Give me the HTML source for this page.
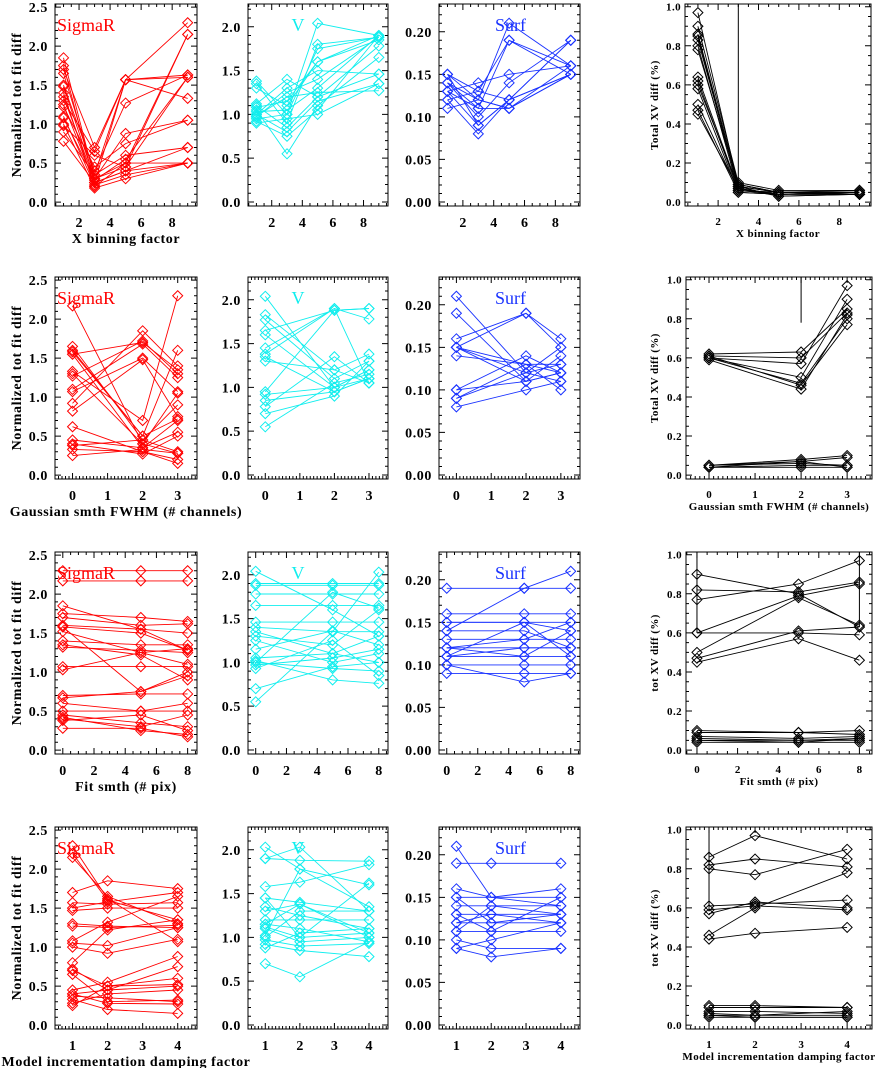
<!DOCTYPE html>
<html><head><meta charset="utf-8">
<style>
html,body{margin:0;padding:0;background:#fff;}
svg{display:block;}
text{font-family:"Liberation Serif",serif;font-weight:bold;fill:#000;}
</style></head>
<body>
<svg id="fig" width="879" height="1068" viewBox="0 0 879 1068" xmlns="http://www.w3.org/2000/svg"></svg>
<script>
// ---- Data (x categories per row) ----
const xRow1 = [1,3,5,9];
const xRow2 = [0,2,3];
const xRow3 = [0,5,8];
const xRow4 = [1,2,4];

const r1SigmaR = [[1.85,0.3,0.45,2.15],[1.75,0.25,1.57,1.6],[1.7,0.7,1.57,1.33],[1.65,0.35,1.57,2.3],[1.5,0.4,1.27,1.63],[1.48,0.3,0.88,1.05],[1.4,0.2,0.5,0.5],[1.35,0.28,0.55,1.6],[1.3,0.65,1.57,1.63],[1.25,0.25,0.4,0.7],[1.22,0.45,0.75,1.05],[1.1,0.22,0.35,0.5],[1.08,0.3,0.5,2.15],[1.0,0.18,0.3,0.5],[0.98,0.6,0.45,1.6],[0.9,0.35,0.6,0.7],[0.78,0.25,0.4,0.5]];
const r1V = [[1.38,1.0,2.04,1.9],[1.35,0.9,1.8,1.88],[1.3,1.1,1.6,1.9],[1.12,1.4,1.2,1.78],[1.05,0.55,1.1,1.65],[1.0,1.3,1.5,1.46],[1.0,0.8,1.15,1.35],[0.98,1.2,1.25,1.27],[0.95,1.0,1.75,1.88],[0.92,0.75,1.05,1.9],[1.08,1.15,1.6,1.85],[0.9,0.95,1.0,1.35],[1.03,1.05,1.3,1.9],[1.1,0.85,1.2,1.46],[0.97,1.25,1.4,1.88]];
const r1Surf = [[0.15,0.13,0.19,0.15],[0.15,0.09,0.12,0.19],[0.14,0.12,0.21,0.16],[0.14,0.1,0.14,0.19],[0.13,0.11,0.11,0.15],[0.13,0.14,0.15,0.16],[0.12,0.08,0.12,0.15],[0.11,0.12,0.11,0.15],[0.13,0.09,0.12,0.19],[0.15,0.12,0.11,0.16],[0.14,0.11,0.19,0.16],[0.12,0.13,0.12,0.15]];
const r1XV = [[0.97,0.08,0.05,0.05],[0.9,0.1,0.06,0.06],[0.86,0.09,0.05,0.05],[0.85,0.07,0.04,0.04],[0.83,0.08,0.05,0.06],[0.8,0.06,0.04,0.05],[0.78,0.09,0.05,0.04],[0.64,0.07,0.04,0.05],[0.62,0.06,0.05,0.04],[0.6,0.08,0.03,0.04],[0.58,0.05,0.04,0.05],[0.5,0.06,0.05,0.05],[0.47,0.05,0.04,0.04],[0.45,0.07,0.03,0.04]];
const r1Vline = [[3,0.08]];

const r2SigmaR = [[2.17,0.4,1.05],[1.65,0.45,0.3],[1.58,0.5,1.6],[1.55,0.35,0.7],[1.33,0.7,2.3],[1.3,0.4,0.28],[1.27,1.72,1.3],[1.1,1.68,1.25],[1.07,1.5,1.07],[0.92,1.85,1.4],[0.82,1.48,0.75],[0.62,0.3,0.2],[0.45,0.35,0.55],[0.4,0.27,0.5],[0.38,0.45,0.9],[0.33,0.3,0.15],[0.25,0.33,0.28],[1.6,0.5,0.72],[1.55,1.7,1.35]];
const r2V = [[2.04,1.0,1.1],[1.83,1.2,1.05],[1.77,1.1,1.3],[1.65,1.88,1.9],[1.6,1.0,1.2],[1.45,1.9,1.78],[1.38,1.9,1.05],[1.35,0.95,1.1],[1.3,1.2,1.38],[0.95,1.88,1.9],[0.92,1.0,1.2],[0.85,0.95,1.1],[0.78,1.35,1.05],[0.7,0.9,1.3],[0.55,1.05,1.15]];
const r2Surf = [[0.21,0.12,0.11],[0.19,0.11,0.12],[0.16,0.19,0.15],[0.15,0.19,0.16],[0.15,0.12,0.13],[0.14,0.13,0.1],[0.15,0.11,0.14],[0.10,0.14,0.12],[0.09,0.12,0.15],[0.09,0.13,0.13],[0.08,0.10,0.11],[0.10,0.11,0.12],[0.15,0.13,0.12]];
const r2XV = [[0.62,0.63,0.85],[0.61,0.6,0.83],[0.6,0.57,0.97],[0.6,0.5,0.9],[0.6,0.47,0.8],[0.61,0.46,0.77],[0.59,0.44,0.82],[0.05,0.08,0.1],[0.05,0.07,0.09],[0.04,0.05,0.05],[0.04,0.04,0.04],[0.05,0.06,0.05],[0.04,0.07,0.04]];
const r2Vline = [[2,0.78]];

const r3SigmaR = [[2.3,2.3,2.3],[2.17,2.17,2.17],[1.85,1.55,1.28],[1.75,1.7,1.65],[1.7,1.6,1.62],[1.6,1.55,1.5],[1.58,1.5,1.28],[1.52,1.25,1.1],[1.4,1.35,1.35],[1.35,1.22,0.9],[1.32,1.28,1.25],[1.07,1.07,1.07],[1.03,1.25,1.3],[0.7,0.72,0.72],[0.67,0.75,0.95],[0.6,0.5,0.6],[0.5,0.5,0.5],[0.45,0.35,0.3],[0.4,0.3,0.45],[0.38,0.45,0.25],[0.28,0.28,0.17],[0.42,0.25,0.2],[1.58,0.75,1.0]];
const r3V = [[2.04,1.6,1.3],[1.9,1.9,1.9],[1.88,1.88,1.88],[1.78,1.78,1.78],[1.65,1.65,1.65],[1.46,1.46,1.46],[1.4,1.35,1.35],[1.35,1.1,1.0],[1.3,1.2,1.6],[1.25,1.0,1.1],[1.15,1.36,1.2],[1.05,1.1,1.3],[1.0,0.93,0.9],[0.97,1.05,1.15],[0.93,1.25,0.85],[0.7,0.95,1.0],[0.55,1.35,2.03],[1.02,0.8,0.76],[1.0,1.8,1.62]];
const r3Surf = [[0.19,0.19,0.19],[0.16,0.16,0.16],[0.15,0.15,0.15],[0.15,0.15,0.14],[0.14,0.19,0.21],[0.14,0.14,0.12],[0.13,0.13,0.13],[0.12,0.12,0.12],[0.12,0.13,0.15],[0.11,0.15,0.11],[0.11,0.11,0.11],[0.11,0.12,0.12],[0.10,0.10,0.10],[0.10,0.08,0.09],[0.09,0.09,0.09],[0.12,0.11,0.14]];
const r3XV = [[0.9,0.8,0.63],[0.82,0.81,0.86],[0.77,0.85,0.97],[0.6,0.79,0.85],[0.5,0.78,0.64],[0.47,0.61,0.63],[0.45,0.57,0.46],[0.6,0.6,0.59],[0.1,0.09,0.1],[0.09,0.09,0.08],[0.07,0.06,0.07],[0.05,0.05,0.05],[0.04,0.04,0.04],[0.06,0.05,0.06],[0.05,0.04,0.06]];
const r3Vline = [[0,0.6],[8,0.63]];

const r4SigmaR = [[2.3,1.62,1.07],[2.2,1.6,1.35],[2.15,1.65,1.3],[1.7,1.85,1.75],[1.57,1.55,1.57],[1.5,1.58,1.7],[1.47,1.5,1.5],[1.3,1.27,1.25],[1.27,1.25,1.28],[1.08,1.32,1.65],[1.05,1.02,1.25],[1.0,0.92,1.1],[0.8,1.22,1.35],[0.72,0.45,0.5],[0.7,0.5,0.52],[0.65,0.3,0.32],[0.45,0.55,0.88],[0.4,0.45,0.75],[0.37,0.35,0.3],[0.33,0.2,0.15],[0.28,0.4,0.45],[0.25,0.5,0.6],[0.4,0.28,0.27]];
const r4V = [[2.03,1.78,1.35],[1.9,1.88,1.87],[1.9,2.03,1.3],[1.58,1.63,1.83],[1.45,1.4,1.3],[1.45,1.0,1.62],[1.35,1.25,1.1],[1.3,1.38,1.0],[1.2,1.2,1.2],[1.15,1.1,0.95],[1.12,1.0,1.05],[1.1,0.95,1.0],[1.0,1.3,1.3],[0.97,0.9,0.93],[0.92,0.85,0.78],[0.88,1.05,1.1],[0.7,0.55,0.95],[1.02,1.78,1.6],[1.15,1.38,1.05]];
const r4Surf = [[0.21,0.15,0.14],[0.19,0.19,0.19],[0.16,0.15,0.16],[0.15,0.15,0.15],[0.15,0.12,0.13],[0.14,0.14,0.14],[0.13,0.13,0.12],[0.13,0.11,0.15],[0.12,0.12,0.12],[0.12,0.13,0.13],[0.11,0.11,0.11],[0.11,0.14,0.13],[0.10,0.09,0.09],[0.09,0.08,0.09],[0.09,0.10,0.12]];
const r4XV = [[0.86,0.97,0.85],[0.82,0.85,0.81],[0.8,0.77,0.9],[0.61,0.62,0.64],[0.59,0.61,0.59],[0.57,0.63,0.6],[0.46,0.6,0.78],[0.44,0.47,0.5],[0.1,0.1,0.09],[0.09,0.09,0.09],[0.07,0.07,0.06],[0.05,0.05,0.05],[0.04,0.04,0.04],[0.06,0.05,0.07],[0.05,0.04,0.04]];
const r4Vline = [[1,0.6]];

const xTicksRow1 = [2,4,6,8];
const xTicksRow2 = [0,1,2,3];
const xTicksRow3 = [0,2,4,6,8];
const xTicksRow4 = [1,2,3,4];
const yTicksSigmaR = ["0.0","0.5","1.0","1.5","2.0","2.5"];
const yTicksV = ["0.0","0.5","1.0","1.5","2.0"];
const yTicksSurf = ["0.00","0.05","0.10","0.15","0.20"];
const yTicksXV = ["0.0","0.2","0.4","0.6","0.8","1.0"];
const xTitles = ["X binning factor","Gaussian smth FWHM (# channels)","Fit smth (# pix)","Model incrementation damping factor"];
const xvTitles = ["Total XV diff (%)","Total XV diff (%)","tot XV diff (%)","tot XV diff (%)"];

// ---- Layout ----
const NS="http://www.w3.org/2000/svg";
const svg=document.getElementById('fig');
function mk(tag,attrs,parent){const e=document.createElementNS(NS,tag);for(const k in attrs)e.setAttribute(k,attrs[k]);(parent||svg).appendChild(e);return e;}

const rowTops=[4,277,552,827];
const H=202;
const cols=[{l:55,r:197},{l:248,r:388},{l:439,r:580}];
const col4Row=[{l:685,r:871},{l:686,r:872},{l:686,r:872},{l:686,r:872}];
const xDom=[[0.45,9.6],[-0.5,3.55],[-0.5,8.6],[0.5,4.55]];
const xDom4=[[0.36,9.57],[-0.5,3.54],[-0.54,8.62],[0.5,4.54]];
const xMinor=[0.5,0.1,0.5,0.1];
const yDom={s:[-0.05,2.54],v:[-0.046,2.26],f:[-0.0047,0.2326],x:[-0.02,1.014]};
const yStep={s:0.5,v:0.5,f:0.05,x:0.2};
const yMinorStep={s:0.1,v:0.1,f:0.01,x:0.05};
const xCats=[xRow1,xRow2,xRow3,xRow4];
const xTicks=[xTicksRow1,xTicksRow2,xTicksRow3,xTicksRow4];
const dataRows=[[r1SigmaR,r1V,r1Surf,r1XV],[r2SigmaR,r2V,r2Surf,r2XV],[r3SigmaR,r3V,r3Surf,r3XV],[r4SigmaR,r4V,r4Surf,r4XV]];
const vlines=[r1Vline,r2Vline,r3Vline,r4Vline];
const colors=["#ff0000","#11eeee","#1a33ff","#000000"];
const keys=["s","v","f","x"];
const yLabels=[yTicksSigmaR,yTicksV,yTicksSurf,yTicksXV];
const names=["SigmaR","V","Surf","XV"];
const titlePos=[57,298,495];

let clipId=0;
for(let r=0;r<4;r++){
  for(let c=0;c<4;c++){
    const box=c<3?cols[c]:col4Row[r];
    const top=rowTops[r],bot=top+H;
    const xd=c<3?xDom[r]:xDom4[r];
    const k=keys[c],yd=yDom[k];
    const sx=v=>box.l+(v-xd[0])/(xd[1]-xd[0])*(box.r-box.l);
    const sy=v=>bot-(v-yd[0])/(yd[1]-yd[0])*H;
    const g=mk('g',{});
    
    
    const cp=mk('clipPath',{id:'cp'+clipId},g);
    mk('rect',{x:box.l,y:top,width:box.r-box.l,height:H},cp);
    const fr=mk('rect',{x:box.l,y:top,width:box.r-box.l,height:H,fill:'none',stroke:'#000','stroke-width':1},g);
    
    
    let tp='';
    const fs=c<3?14:11;
    const ls=c<3?'0.6px':'0.4px';
    const ylab=yLabels[c];
    for(let i=0;i<ylab.length;i++){
      const v=i*yStep[k],y=sy(v);
      tp+=`M${box.l},${y}h6M${box.r},${y}h-6`;
      const t=mk('text',{x:c<3?box.l-7:box.l-4,y:y+(c<3?5:4),'text-anchor':'end','font-size':fs,'letter-spacing':ls},g);
      t.textContent=ylab[i];
      
      
    }
    for(let v=0;v<=yd[1]+1e-9;v+=yMinorStep[k]){const y=sy(v);tp+=`M${box.l},${y}h3M${box.r},${y}h-3`;}
    const xt=xTicks[r];
    for(const v of xt){
      const x=sx(v);
      tp+=`M${x},${bot}v-6M${x},${top}v6`;
      const t=mk('text',{x:x,y:bot+(c<3?21:19),'text-anchor':'middle','font-size':fs},g);
      t.textContent=String(v);
      
      
    }
    const ms=xMinor[r];
    for(let v=Math.ceil(xd[0]/ms)*ms;v<=xd[1];v+=ms){const x=sx(v);tp+=`M${x},${bot}v-3M${x},${top}v3`;}
    const tk=mk('path',{d:tp,stroke:'#000','stroke-width':1,fill:'none'},g);
    
    
    const sg=mk('g',{'clip-path':'url(#cp'+clipId+')'},g);
    clipId++;
    const col=colors[c];
    const xs=xCats[r];
    dataRows[r][c].forEach((ser,si)=>{
      const pts=ser.map((v,i)=>sx(xs[i]).toFixed(1)+','+sy(v).toFixed(1)).join(' ');
      const pl=mk('polyline',{points:pts,fill:'none',stroke:col,'stroke-width':0.9},sg);
      
      
      let d='';
      ser.forEach((v,i)=>{const x=sx(xs[i]),y=sy(v);d+=`M${x-5},${y}L${x},${y-5}L${x+5},${y}L${x},${y+5}Z`;});
      const mp=mk('path',{d:d,fill:'none',stroke:col,'stroke-width':1},sg);
      
      
    });
    if(c===3){
      vlines[r].forEach(vl=>{
        const ln=mk('line',{x1:sx(vl[0]),x2:sx(vl[0]),y1:top,y2:sy(vl[1]),stroke:'#000','stroke-width':1},sg);
        
        
      });
    }
    if(c<3){
      const t=mk('text',{x:titlePos[c],y:top+27,'font-size':18,'text-anchor':c===1?'middle':'start',style:'font-weight:normal;fill:'+col},g);
      t.textContent=names[c];
      
      
    }
    if(c===0){
      const yt=mk('text',{x:0,y:0,'font-size':14,'letter-spacing':'0.6px','text-anchor':'middle',transform:`translate(21,${top+H/2}) rotate(-90)`},g);
      yt.textContent='Normalized tot fit diff';
      
      
      const xt2=mk('text',{x:126,y:bot+37,'font-size':14,'letter-spacing':'0.6px','text-anchor':'middle'},g);
      xt2.textContent=xTitles[r];
      
      
    }
    if(c===3){
      const yt=mk('text',{x:0,y:0,'font-size':11,'letter-spacing':'0.4px','text-anchor':'middle',transform:`translate(658,${top+H/2}) rotate(-90)`},g);
      yt.textContent=xvTitles[r];
      
      
      const xt2=mk('text',{x:(box.l+box.r)/2,y:bot+31,'font-size':11,'letter-spacing':'0.4px','text-anchor':'middle'},g);
      xt2.textContent=xTitles[r];
      
      
    }
  }
}
</script>
</body></html>
